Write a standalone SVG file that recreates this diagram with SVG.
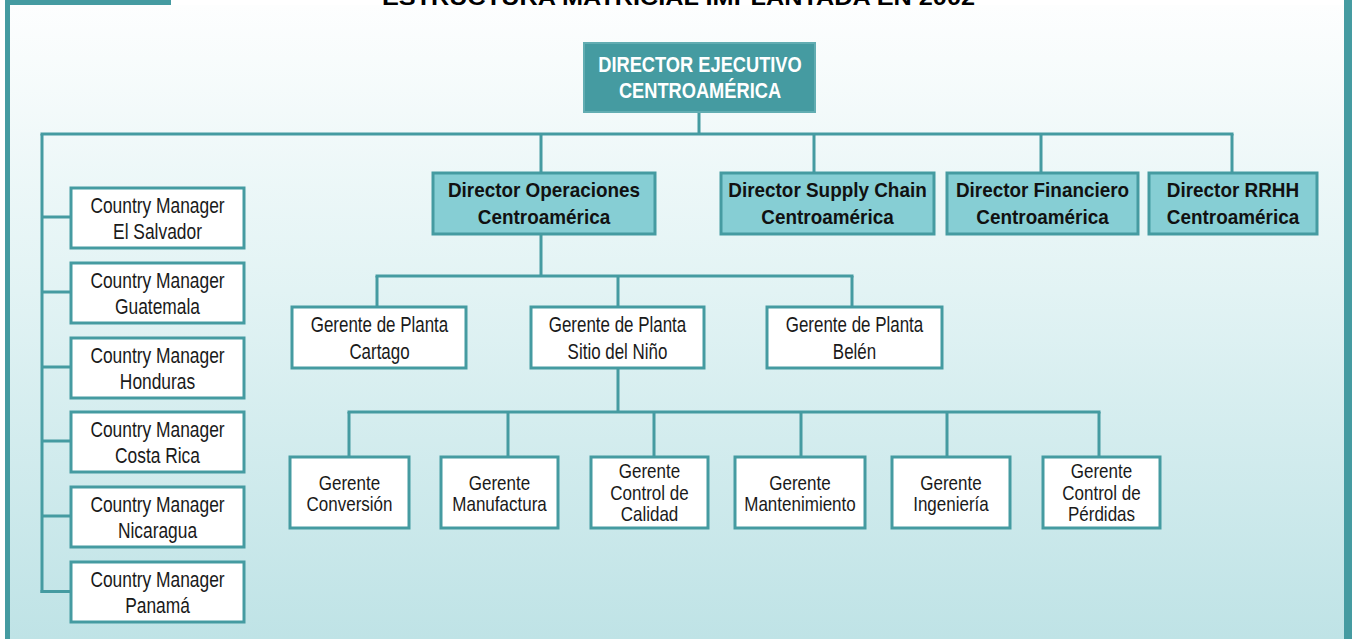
<svg xmlns="http://www.w3.org/2000/svg" width="1352" height="639" viewBox="0 0 1352 639">
<defs>
<linearGradient id="bg" x1="0" y1="0" x2="0" y2="1">
<stop offset="0" stop-color="#fdfefe"/>
<stop offset="0.45" stop-color="#e2f3f4"/>
<stop offset="1" stop-color="#bfe3e6"/>
</linearGradient>
<style>
.conn line{stroke:#459ba1;stroke-width:3;fill:none}
.wbox{fill:#ffffff;stroke:#459ba1;stroke-width:3}
.dbox{fill:#86ced4;stroke:#459ba1;stroke-width:3}
.ebox{fill:#459ba1;stroke:#62adb2;stroke-width:2}
.t{font-family:"Liberation Sans",Arial,sans-serif;font-size:22px;fill:#1a1a1a;text-anchor:middle}
.s{font-family:"Liberation Sans",Arial,sans-serif;font-size:21px;fill:#1a1a1a;text-anchor:middle}
.b{font-family:"Liberation Sans",Arial,sans-serif;font-size:21px;font-weight:bold;fill:#111;text-anchor:middle}
.e{font-family:"Liberation Sans",Arial,sans-serif;font-size:22px;font-weight:bold;fill:#ffffff;text-anchor:middle}
.title{font-family:"Liberation Sans",Arial,sans-serif;font-size:22px;font-weight:bold;fill:#000}
</style>
</defs>
<rect x="0" y="0" width="1352" height="639" fill="#ffffff"/>
<rect x="8" y="5" width="1338" height="634" fill="url(#bg)"/>
<rect x="5" y="0" width="5" height="639" fill="#459ba1"/>
<rect x="1344" y="0" width="8" height="639" fill="#459ba1"/>
<rect x="5" y="0" width="166" height="5" fill="#459ba1"/>
<text class="title" x="382" y="5" textLength="593" lengthAdjust="spacingAndGlyphs">ESTRUCTURA MATRICIAL IMPLANTADA EN 2002</text>

<g id="connectors" class="conn">
<line x1="699" y1="112" x2="699" y2="134"/>
<line x1="40.5" y1="134" x2="1233.5" y2="134"/>
<line x1="42" y1="134" x2="42" y2="593"/>
<line x1="42" y1="217" x2="71" y2="217"/>
<line x1="42" y1="292" x2="71" y2="292"/>
<line x1="42" y1="367" x2="71" y2="367"/>
<line x1="42" y1="441" x2="71" y2="441"/>
<line x1="42" y1="516" x2="71" y2="516"/>
<line x1="40.5" y1="591.5" x2="71" y2="591.5"/>
<line x1="541" y1="134" x2="541" y2="173"/>
<line x1="814" y1="134" x2="814" y2="173"/>
<line x1="1041" y1="134" x2="1041" y2="173"/>
<line x1="1232" y1="134" x2="1232" y2="173"/>
<line x1="541" y1="234" x2="541" y2="276"/>
<line x1="375.5" y1="276" x2="853.5" y2="276"/>
<line x1="377" y1="276" x2="377" y2="307"/>
<line x1="618" y1="276" x2="618" y2="307"/>
<line x1="852" y1="276" x2="852" y2="307"/>
<line x1="618" y1="368" x2="618" y2="412"/>
<line x1="347.5" y1="412" x2="1100.5" y2="412"/>
<line x1="349" y1="412" x2="349" y2="457"/>
<line x1="508" y1="412" x2="508" y2="457"/>
<line x1="654" y1="412" x2="654" y2="457"/>
<line x1="801" y1="412" x2="801" y2="457"/>
<line x1="947" y1="412" x2="947" y2="457"/>
<line x1="1099" y1="412" x2="1099" y2="457"/>
</g>

<g id="director-ejecutivo">
<rect class="ebox" x="584" y="43" width="231" height="69"/>
<text class="e" transform="translate(700,72) scale(0.83,1)">DIRECTOR EJECUTIVO</text>
<text class="e" transform="translate(700,98) scale(0.83,1)">CENTROAMÉRICA</text>
</g>

<g id="director-operaciones">
<rect class="dbox" x="433" y="173" width="222" height="61"/>
<text class="b" transform="translate(544,197) scale(0.9,1)">Director Operaciones</text>
<text class="b" transform="translate(544,224) scale(0.9,1)">Centroamérica</text>
</g>
<g id="director-supply">
<rect class="dbox" x="721" y="173" width="213" height="61"/>
<text class="b" transform="translate(827.5,197) scale(0.9,1)">Director Supply Chain</text>
<text class="b" transform="translate(827.5,224) scale(0.9,1)">Centroamérica</text>
</g>
<g id="director-financiero">
<rect class="dbox" x="947" y="173" width="191" height="61"/>
<text class="b" transform="translate(1042.5,197) scale(0.9,1)">Director Financiero</text>
<text class="b" transform="translate(1042.5,224) scale(0.9,1)">Centroamérica</text>
</g>
<g id="director-rrhh">
<rect class="dbox" x="1149" y="173" width="168" height="61"/>
<text class="b" transform="translate(1233,197) scale(0.9,1)">Director RRHH</text>
<text class="b" transform="translate(1233,224) scale(0.9,1)">Centroamérica</text>
</g>

<g id="cm-el-salvador">
<rect class="wbox" x="71" y="188" width="173" height="60"/>
<text class="t" transform="translate(157.5,213) scale(0.79,1)">Country Manager</text>
<text class="t" transform="translate(157.5,239) scale(0.79,1)">El Salvador</text>
</g>
<g id="cm-guatemala">
<rect class="wbox" x="71" y="263" width="173" height="60"/>
<text class="t" transform="translate(157.5,288) scale(0.79,1)">Country Manager</text>
<text class="t" transform="translate(157.5,314) scale(0.79,1)">Guatemala</text>
</g>
<g id="cm-honduras">
<rect class="wbox" x="71" y="338" width="173" height="60"/>
<text class="t" transform="translate(157.5,363) scale(0.79,1)">Country Manager</text>
<text class="t" transform="translate(157.5,389) scale(0.79,1)">Honduras</text>
</g>
<g id="cm-costa-rica">
<rect class="wbox" x="71" y="412" width="173" height="60"/>
<text class="t" transform="translate(157.5,437) scale(0.79,1)">Country Manager</text>
<text class="t" transform="translate(157.5,463) scale(0.79,1)">Costa Rica</text>
</g>
<g id="cm-nicaragua">
<rect class="wbox" x="71" y="487" width="173" height="60"/>
<text class="t" transform="translate(157.5,512) scale(0.79,1)">Country Manager</text>
<text class="t" transform="translate(157.5,538) scale(0.79,1)">Nicaragua</text>
</g>
<g id="cm-panama">
<rect class="wbox" x="71" y="562" width="173" height="60"/>
<text class="t" transform="translate(157.5,587) scale(0.79,1)">Country Manager</text>
<text class="t" transform="translate(157.5,613) scale(0.79,1)">Panamá</text>
</g>

<g id="gp-cartago">
<rect class="wbox" x="292" y="307" width="174" height="61"/>
<text class="t" transform="translate(379.5,332) scale(0.77,1)">Gerente de Planta</text>
<text class="t" transform="translate(379.5,359) scale(0.77,1)">Cartago</text>
</g>
<g id="gp-sitio">
<rect class="wbox" x="531" y="307" width="173" height="61"/>
<text class="t" transform="translate(617.5,332) scale(0.77,1)">Gerente de Planta</text>
<text class="t" transform="translate(617.5,359) scale(0.77,1)">Sitio del Niño</text>
</g>
<g id="gp-belen">
<rect class="wbox" x="767" y="307" width="175" height="61"/>
<text class="t" transform="translate(854.5,332) scale(0.77,1)">Gerente de Planta</text>
<text class="t" transform="translate(854.5,359) scale(0.77,1)">Belén</text>
</g>

<g id="g-conversion">
<rect class="wbox" x="290" y="457" width="119" height="71"/>
<text class="s" transform="translate(349.5,490) scale(0.81,1)">Gerente</text>
<text class="s" transform="translate(349.5,511) scale(0.81,1)">Conversión</text>
</g>
<g id="g-manufactura">
<rect class="wbox" x="441" y="457" width="117" height="71"/>
<text class="s" transform="translate(499.5,490) scale(0.81,1)">Gerente</text>
<text class="s" transform="translate(499.5,511) scale(0.81,1)">Manufactura</text>
</g>
<g id="g-calidad">
<rect class="wbox" x="591" y="457" width="117" height="71"/>
<text class="s" transform="translate(649.5,478) scale(0.81,1)">Gerente</text>
<text class="s" transform="translate(649.5,500) scale(0.81,1)">Control de</text>
<text class="s" transform="translate(649.5,521) scale(0.81,1)">Calidad</text>
</g>
<g id="g-mantenimiento">
<rect class="wbox" x="735" y="457" width="130" height="71"/>
<text class="s" transform="translate(800,490) scale(0.81,1)">Gerente</text>
<text class="s" transform="translate(800,511) scale(0.81,1)">Mantenimiento</text>
</g>
<g id="g-ingenieria">
<rect class="wbox" x="892" y="457" width="118" height="71"/>
<text class="s" transform="translate(951,490) scale(0.81,1)">Gerente</text>
<text class="s" transform="translate(951,511) scale(0.81,1)">Ingeniería</text>
</g>
<g id="g-perdidas">
<rect class="wbox" x="1043" y="457" width="117" height="71"/>
<text class="s" transform="translate(1101.5,478) scale(0.81,1)">Gerente</text>
<text class="s" transform="translate(1101.5,500) scale(0.81,1)">Control de</text>
<text class="s" transform="translate(1101.5,521) scale(0.81,1)">Pérdidas</text>
</g>
</svg>
